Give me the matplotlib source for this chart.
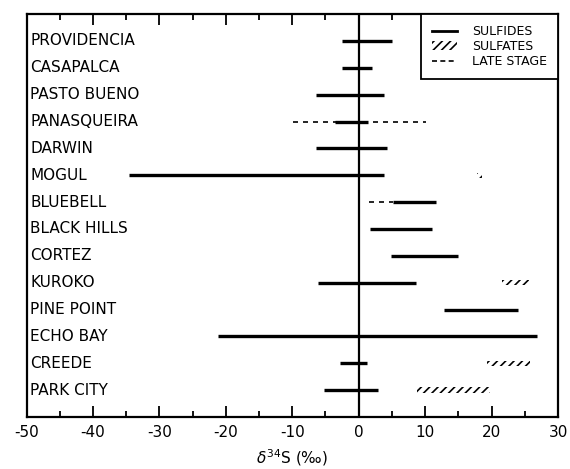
import matplotlib
matplotlib.use("Agg")
import matplotlib.pyplot as plt
from matplotlib.lines import Line2D
from matplotlib.patches import Patch

# Deposits, top to bottom
deposits = ["PROVIDENCIA", "CASAPALCA", "PASTO BUENO", "PANASQUEIRA", "DARWIN",
            "MOGUL", "BLUEBELL", "BLACK HILLS", "CORTEZ", "KUROKO",
            "PINE POINT", "ECHO BAY", "CREEDE", "PARK CITY"]

# delta34S ranges (per mil): (min, max) or None
sulfides = [(-2.5, 5.0), (-2.5, 2.0), (-6.5, 3.8), (-3.5, 1.4), (-6.5, 4.3),
            (-34.6, 3.8), (5.2, 11.6), (1.7, 11.1), (4.9, 14.9), (-6.1, 8.6),
            (12.9, 24.0), (-21.2, 26.9), (-2.8, 1.2), (-5.2, 2.9)]
sulfates = [None, None, None, None, None,
            (17.8, 18.5), None, None, None, (21.6, 25.6),
            None, None, (19.3, 25.8), (8.8, 19.8)]
late_stage = [None, None, None, (-9.9, 10.2), None,
              None, (1.6, 5.2), None, None, None,
              None, None, None, None]

xticks = [-50, -40, -30, -20, -10, 0, 10, 20, 30]
xtick_labels = ["-50", "-40", "-30", "-20", "-10", "0", "10", "20", "30"]

plt.rcParams["hatch.linewidth"] = 1.2

fig = plt.figure(figsize=(5.70, 4.69), dpi=100)
ax = fig.add_axes([0.0465, 0.111, 0.979 - 0.0465, 0.970 - 0.111])

rows = list(range(1, len(deposits) + 1))

ax.axvline(0, color="black", lw=1.6, zorder=2)

for y, name, sf, su, ls in zip(rows, deposits, sulfides, sulfates, late_stage):
    ax.text(-49.4, y, name, ha="left", va="center", fontsize=11, color="black")
    if ls is not None:
        ax.plot(ls, [y, y], color="black", lw=1.2, linestyle=(0, (3, 3)), zorder=3)
    if sf is not None:
        ax.plot(sf, [y, y], color="black", lw=2.4, solid_capstyle="butt", zorder=4)
    if su is not None:
        ax.barh(y, su[1] - su[0], left=su[0], height=0.2, fill=False,
                hatch="////", edgecolor="black", linewidth=0, zorder=3)

ax.set_xlim(-50, 30)
ax.set_ylim(15, 0)
ax.set_yticks([])
ax.set_xticks(xticks)
ax.set_xticklabels(xtick_labels, fontsize=11)
ax.set_xticks([-45, -35, -25, -15, -5, 5, 15, 25], minor=True)
ax.tick_params(axis="x", which="major", direction="in", length=8, width=1.3,
               top=True, pad=6)
ax.tick_params(axis="x", which="minor", direction="in", length=4, width=1.3,
               top=True)
for sp in ax.spines.values():
    sp.set_linewidth(1.6)

ax.set_xlabel(r"$\delta^{34}$S (‰)", fontsize=11, labelpad=5)

handles = [
    Line2D([], [], color="black", lw=2.0),
    Patch(facecolor="none", edgecolor="black", hatch="////", linewidth=0),
    Line2D([], [], color="black", lw=1.2, linestyle=(0, (3, 2))),
]
leg = ax.legend(handles, ["SULFIDES", "SULFATES", "LATE STAGE"],
                loc="upper right", borderaxespad=0, fancybox=False,
                edgecolor="black", framealpha=1, fontsize=9,
                handlelength=2.0, handletextpad=1.2, labelspacing=0.15,
                borderpad=0.9)
leg.get_frame().set_linewidth(1.3)

fig.savefig("out.png", dpi=100)
